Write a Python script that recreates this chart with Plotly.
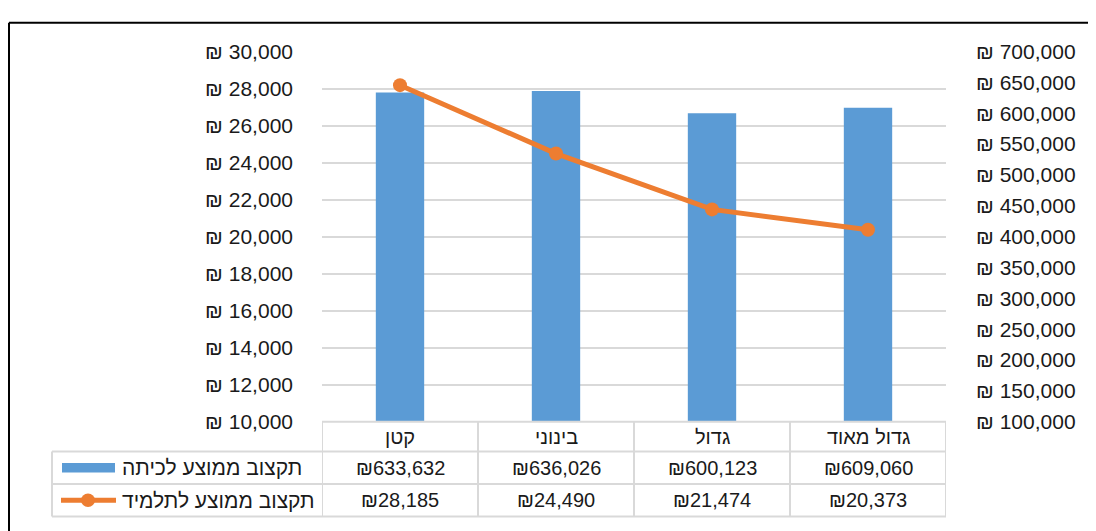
import plotly.graph_objects as go

# ---------------- data ----------------
categories = ["קטן", "בינוני", "גדול", "גדול מאוד"]
class_budget = [633632, 636026, 600123, 609060]      # תקצוב ממוצע לכיתה (right axis, bars)
student_budget = [28185, 24490, 21474, 20373]         # תקצוב ממוצע לתלמיד (left axis, line)
series_names = ["תקצוב ממוצע לכיתה", "תקצוב ממוצע לתלמיד"]
left_ticks = list(range(10000, 30001, 2000))
right_ticks = list(range(100000, 700001, 50000))

# ---------------- style ----------------
W, H = 1096, 531
OFF = 8  # page body margin
BLUE = "#5B9BD5"
ORANGE = "#ED7D31"
GRID = "#D9D9D9"
TEXT = "#1a1a1a"
FONT = "Liberation Sans, DejaVu Sans, sans-serif"


def px(x):
    return (x - OFF) / W


def py(y):
    return 1 - (y - OFF) / H


PLOT_L, PLOT_R, PLOT_T, PLOT_B = 322, 946, 41, 428
ROW_LINES = [428, 459, 493, 527]
LEG_L = 52

xs = list(range(len(categories)))

fig = go.Figure()
fig.add_trace(go.Bar(
    x=xs, y=class_budget, xaxis="x", yaxis="y",
    marker=dict(color=BLUE, line=dict(width=0)), width=0.31,
    name=series_names[0], showlegend=False,
))
fig.add_trace(go.Scatter(
    x=xs, y=student_budget, xaxis="x", yaxis="y2",
    mode="lines+markers",
    line=dict(color=ORANGE, width=5),
    marker=dict(size=14, color=ORANGE),
    name=series_names[1], showlegend=False, cliponaxis=False,
))

shapes = []
annotations = []

# outer chart frame (left and top edges visible)
shapes.append(dict(type="line", xref="paper", yref="paper", x0=px(9), x1=1.02, y0=py(11), y1=py(11),
                   line=dict(color="#000000", width=2)))
shapes.append(dict(type="line", xref="paper", yref="paper", x0=px(9), x1=px(9), y0=py(11), y1=-0.02,
                   line=dict(color="#000000", width=2)))

# data table grid
tline = dict(color=GRID, width=2)
shapes.append(dict(type="line", xref="paper", yref="paper", x0=px(PLOT_L), x1=px(PLOT_R),
                   y0=py(ROW_LINES[0]), y1=py(ROW_LINES[0]), line=tline))
for r in ROW_LINES[1:]:
    shapes.append(dict(type="line", xref="paper", yref="paper", x0=px(LEG_L), x1=px(PLOT_R),
                       y0=py(r), y1=py(r), line=tline))
for i in range(len(categories) + 1):
    shapes.append(dict(type="line", xref="x", yref="paper", x0=i - 0.5, x1=i - 0.5,
                       y0=py(ROW_LINES[0]), y1=py(ROW_LINES[-1]), line=tline))
shapes.append(dict(type="line", xref="paper", yref="paper", x0=px(LEG_L), x1=px(LEG_L),
                   y0=py(ROW_LINES[1]), y1=py(ROW_LINES[-1]), line=tline))

row_c = [(ROW_LINES[k] + ROW_LINES[k + 1]) / 2 for k in range(3)]

for i, c in enumerate(categories):
    annotations.append(dict(x=i, xref="x", y=py(row_c[0]), yref="paper", text=c, showarrow=False,
                            xanchor="center", yanchor="middle", font=dict(size=20, color=TEXT, family=FONT)))
for i, v in enumerate(class_budget):
    annotations.append(dict(x=i, xref="x", y=py(row_c[1]), yref="paper", text="₪{:,}".format(v),
                            showarrow=False, xanchor="center", yanchor="middle",
                            font=dict(size=20, color=TEXT, family=FONT)))
for i, v in enumerate(student_budget):
    annotations.append(dict(x=i, xref="x", y=py(row_c[2]), yref="paper", text="₪{:,}".format(v),
                            showarrow=False, xanchor="center", yanchor="middle",
                            font=dict(size=20, color=TEXT, family=FONT)))
for k, name in enumerate(series_names):
    annotations.append(dict(x=px(120), xref="paper", y=py(row_c[k + 1]), yref="paper", text=name,
                            showarrow=False, xanchor="left", yanchor="middle",
                            font=dict(size=21, color=TEXT, family=FONT)))
shapes.append(dict(type="rect", xref="paper", yref="paper", x0=px(62), x1=px(115),
                   y0=py(row_c[1] + 5), y1=py(row_c[1] - 5), fillcolor=BLUE, line=dict(width=0)))
shapes.append(dict(type="line", xref="paper", yref="paper", x0=px(61), x1=px(116),
                   y0=py(row_c[2]), y1=py(row_c[2]), line=dict(color=ORANGE, width=5)))
shapes.append(dict(type="circle", xref="paper", yref="paper", x0=px(88 - 7), x1=px(88 + 7),
                   y0=py(row_c[2] + 7), y1=py(row_c[2] - 7), fillcolor=ORANGE, line=dict(width=0)))

fig.update_layout(
    width=W, height=H,
    margin=dict(l=0, r=0, t=0, b=0),
    paper_bgcolor="white", plot_bgcolor="white",
    font=dict(family=FONT, size=21, color=TEXT),
    showlegend=False,
    xaxis=dict(domain=[px(PLOT_L), px(PLOT_R)], range=[-0.5, len(categories) - 0.5],
               showticklabels=False, showgrid=False, zeroline=False, showline=False, ticks=""),
    yaxis=dict(domain=[py(PLOT_B), py(PLOT_T)], side="right", range=[right_ticks[0], right_ticks[-1]],
               tickvals=right_ticks, ticktext=["₪ {:,}".format(v) for v in right_ticks],
               showgrid=False, zeroline=False, showline=False, ticks="",
               ticklabelstandoff=29, tickfont=dict(size=21, color=TEXT, family=FONT)),
    yaxis2=dict(overlaying="y", side="left", range=[left_ticks[0], left_ticks[-1]],
                tickvals=left_ticks, ticktext=["₪ {:,}".format(v) for v in left_ticks],
                showgrid=True, gridcolor=GRID, gridwidth=1.5, zeroline=False, showline=False, ticks="",
                ticklabelstandoff=28, tickfont=dict(size=21, color=TEXT, family=FONT)),
    shapes=shapes,
    annotations=annotations,
)

fig.write_html("out.html")
